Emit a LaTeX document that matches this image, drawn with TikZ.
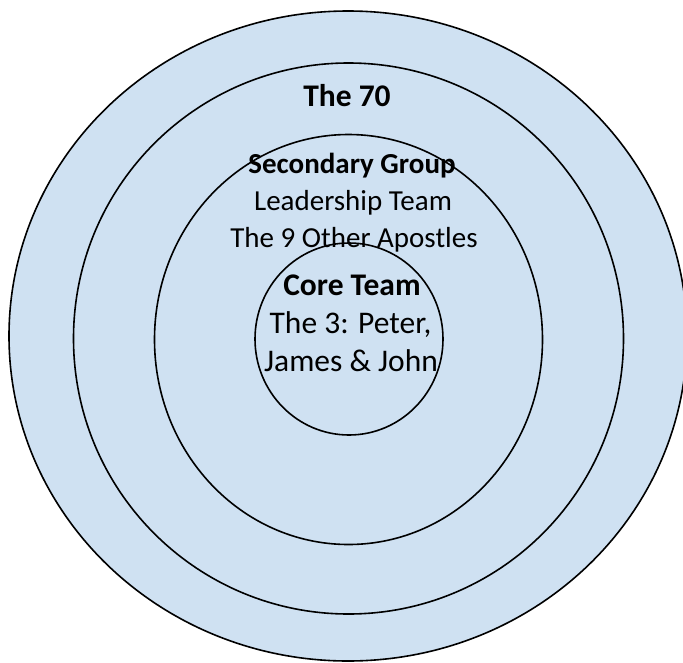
\documentclass[tikz,border=0pt]{standalone}
\usepackage{fontspec}
\setmainfont{Carlito}
\definecolor{ringfill}{RGB}{207,225,242}
\begin{document}
\begin{tikzpicture}[x=1pt,y=-1pt,
  ring/.style={draw=black,line width=1.6pt,fill=ringfill},
  title/.style={font=\fontsize{29}{35}\selectfont\bfseries,anchor=base,inner sep=0pt},
  body/.style={font=\fontsize{29}{35}\selectfont,anchor=base,inner sep=0pt},
  bigtitle/.style={font=\fontsize{31.5}{38}\selectfont\bfseries,anchor=base,inner sep=0pt},
  bigbody/.style={font=\fontsize{31.5}{38}\selectfont,anchor=base,inner sep=0pt}]
\useasboundingbox (0,0) rectangle (683,662);
\clip (0,0) rectangle (683,662);
\draw[ring] (348,336) ellipse [x radius=339,y radius=325];
\draw[ring] (348.5,338.5) ellipse [x radius=275,y radius=275.5];
\draw[ring] (348.5,339.5) ellipse [x radius=194,y radius=205];
\draw[ring] (349,339) ellipse [x radius=94,y radius=96];
\node[bigtitle] (t70) at (347,106) {The 70};
\node[title] (sec) at (352,173) {Secondary Group};
\node[body] (lead) at (353,210) {Leadership Team};
\node[body] (nine) at (354,247) {The 9 Other Apostles};
\node[bigtitle] (core) at (352,295) {Core Team};
\node[bigbody] (three) at (350.5,333) {The 3: Peter,};
\node[bigbody] (jj) at (351,371) {James \& John};
\end{tikzpicture}
\end{document}
